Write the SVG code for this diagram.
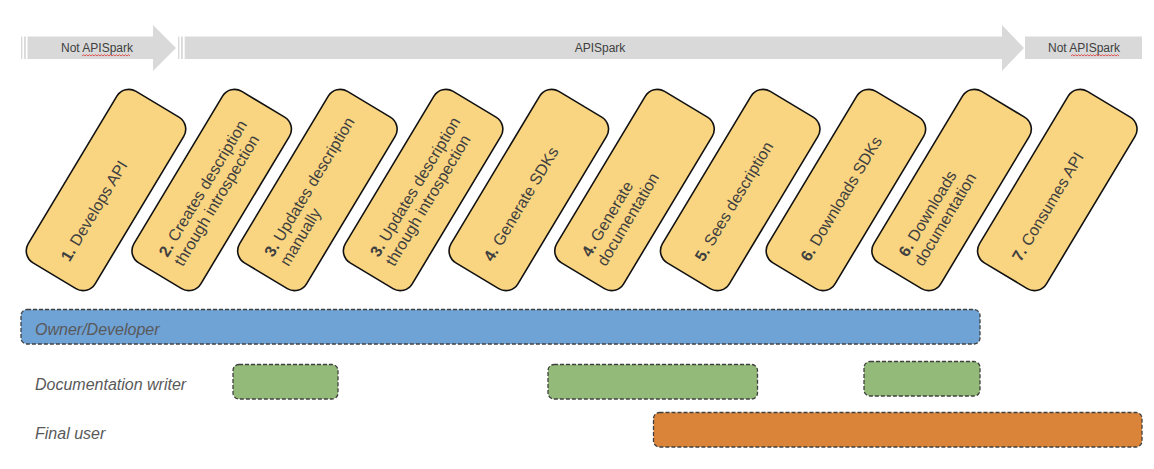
<svg xmlns="http://www.w3.org/2000/svg" width="1154" height="469" viewBox="0 0 1154 469">
<style>
.arrow{fill:#d9d9d9}
.atext{font-family:"Liberation Sans",Arial,sans-serif;font-size:12px;fill:#404040;text-anchor:middle}
.squig{fill:none;stroke:#e03030;stroke-width:0.8}
.card{fill:#fad581;stroke:#111;stroke-width:1.6}
.ctext{font-family:"Liberation Sans",Arial,sans-serif;font-size:16px;fill:#404040}
.num{font-weight:bold}
.bar{stroke:#404040;stroke-width:1.3;stroke-dasharray:4 2}
.blue{fill:#6fa2d5}
.green{fill:#93ba79}
.orange{fill:#da843a}
.role{font-family:"Liberation Sans",Arial,sans-serif;font-size:16px;font-style:italic;fill:#595959}
</style>
<rect width="1154" height="469" fill="#ffffff"/>

<g id="phase-not-apispark-1">
<rect class="arrow" x="21" y="36.5" width="1.4" height="22.5"/>
<rect class="arrow" x="24" y="36.5" width="1.8" height="22.5"/>
<polygon class="arrow" points="27.5,36.5 153,36.5 153,25 176,48 153,71 153,59 27.5,59"/>
<text class="atext" x="97" y="52">Not APISpark</text>
<path class="squig" d="M82 56 l1.5 -1.3 l1.5 1.3 l1.5 -1.3 l1.5 1.3 l1.5 -1.3 l1.5 1.3 l1.5 -1.3 l1.5 1.3 l1.5 -1.3 l1.5 1.3 l1.5 -1.3 l1.5 1.3 l1.5 -1.3 l1.5 1.3 l1.5 -1.3 l1.5 1.3 l1.5 -1.3 l1.5 1.3 l1.5 -1.3 l1.5 1.3 l1.5 -1.3 l1.5 1.3 l1.5 -1.3 l1.5 1.3 l1.5 -1.3 l1.5 1.3 l1.5 -1.3 l1.5 1.3 l1.5 -1.3 l1.5 1.3 l1.5 -1.3 l1.5 1.3"/>
</g>

<g id="phase-apispark">
<rect class="arrow" x="178" y="36.5" width="1.4" height="22.5"/>
<rect class="arrow" x="181" y="36.5" width="1.8" height="22.5"/>
<polygon class="arrow" points="184.7,36.5 1002,36.5 1002,25 1024,48 1002,71 1002,59 184.7,59"/>
<text class="atext" x="600" y="52">APISpark</text>
</g>

<g id="phase-not-apispark-2">
<rect class="arrow" x="1025" y="36.5" width="117" height="22.5"/>
<text class="atext" x="1084" y="52">Not APISpark</text>
<path class="squig" d="M1071 56 l1.5 -1.3 l1.5 1.3 l1.5 -1.3 l1.5 1.3 l1.5 -1.3 l1.5 1.3 l1.5 -1.3 l1.5 1.3 l1.5 -1.3 l1.5 1.3 l1.5 -1.3 l1.5 1.3 l1.5 -1.3 l1.5 1.3 l1.5 -1.3 l1.5 1.3 l1.5 -1.3 l1.5 1.3 l1.5 -1.3 l1.5 1.3 l1.5 -1.3 l1.5 1.3 l1.5 -1.3 l1.5 1.3 l1.5 -1.3 l1.5 1.3 l1.5 -1.3 l1.5 1.3 l1.5 -1.3 l1.5 1.3 l1.5 -1.3 l1.5 1.3"/>
</g>

<g id="step-1" transform="translate(106,190) rotate(-59)">
<rect class="card" x="-100" y="-39" width="200" height="78" rx="14"/>
<text class="ctext" x="-81" y="6"><tspan class="num">1.</tspan> Develops API</text>
</g>
<g id="step-2" transform="translate(211.7,190) rotate(-59)">
<rect class="card" x="-100" y="-39" width="200" height="78" rx="14"/>
<text class="ctext" x="-81" y="-3"><tspan class="num">2.</tspan> Creates description</text>
<text class="ctext" x="-81" y="15">through introspection</text>
</g>
<g id="step-3" transform="translate(317.4,190) rotate(-59)">
<rect class="card" x="-100" y="-39" width="200" height="78" rx="14"/>
<text class="ctext" x="-81" y="-3"><tspan class="num">3.</tspan> Updates description</text>
<text class="ctext" x="-81" y="15">manually</text>
</g>
<g id="step-3b" transform="translate(423.1,190) rotate(-59)">
<rect class="card" x="-100" y="-39" width="200" height="78" rx="14"/>
<text class="ctext" x="-81" y="-3"><tspan class="num">3.</tspan> Updates description</text>
<text class="ctext" x="-81" y="15">through introspection</text>
</g>
<g id="step-4" transform="translate(528.8,190) rotate(-59)">
<rect class="card" x="-100" y="-39" width="200" height="78" rx="14"/>
<text class="ctext" x="-81" y="6"><tspan class="num">4.</tspan> Generate SDKs</text>
</g>
<g id="step-4b" transform="translate(634.5,190) rotate(-59)">
<rect class="card" x="-100" y="-39" width="200" height="78" rx="14"/>
<text class="ctext" x="-81" y="-3"><tspan class="num">4.</tspan> Generate</text>
<text class="ctext" x="-81" y="15">documentation</text>
</g>
<g id="step-5" transform="translate(740.2,190) rotate(-59)">
<rect class="card" x="-100" y="-39" width="200" height="78" rx="14"/>
<text class="ctext" x="-81" y="6"><tspan class="num">5.</tspan> Sees description</text>
</g>
<g id="step-6" transform="translate(845.9,190) rotate(-59)">
<rect class="card" x="-100" y="-39" width="200" height="78" rx="14"/>
<text class="ctext" x="-81" y="6"><tspan class="num">6.</tspan> Downloads SDKs</text>
</g>
<g id="step-6b" transform="translate(951.6,190) rotate(-59)">
<rect class="card" x="-100" y="-39" width="200" height="78" rx="14"/>
<text class="ctext" x="-81" y="-3"><tspan class="num">6.</tspan> Downloads</text>
<text class="ctext" x="-81" y="15">documentation</text>
</g>
<g id="step-7" transform="translate(1057.3,190) rotate(-59)">
<rect class="card" x="-100" y="-39" width="200" height="78" rx="14"/>
<text class="ctext" x="-81" y="6"><tspan class="num">7.</tspan> Consumes API</text>
</g>

<g id="role-owner">
<rect class="bar blue" x="21" y="309.5" width="959" height="34.5" rx="6"/>
<text class="role" x="35" y="335">Owner/Developer</text>
</g>
<g id="role-writer">
<text class="role" x="35" y="390">Documentation writer</text>
<rect class="bar green" x="233" y="364.5" width="105" height="34.5" rx="6"/>
<rect class="bar green" x="548" y="364.5" width="209.5" height="34.5" rx="6"/>
<rect class="bar green" x="864" y="361.5" width="116" height="34.5" rx="6"/>
</g>
<g id="role-final-user">
<text class="role" x="35" y="439">Final user</text>
<rect class="bar orange" x="653.5" y="412.5" width="488.5" height="34.5" rx="6"/>
</g>
<g id="connectors"/>
</svg>
